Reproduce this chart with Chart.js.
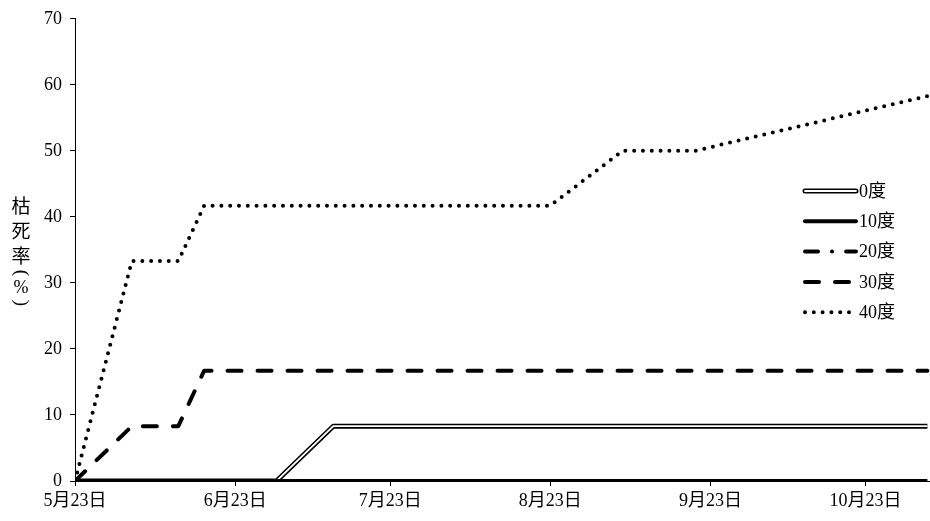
<!DOCTYPE html>
<html>
<head>
<meta charset="utf-8">
<script src="https://cdn.jsdelivr.net/npm/chart.js@4.4.0/dist/chart.umd.min.js"></script>
<style>
  html, body { margin: 0; padding: 0; background: #fff; }
  #wrap { width: 930px; height: 521px; }
</style>
</head>
<body>
<div id="wrap"><canvas id="chart" width="930" height="521"></canvas></div>
<script>
// x = days counted from 5月23日
var dayPoints = [0, 11, 20, 25, 39, 50, 92, 106, 120, 165];
var deg0  = [0, 0, 0, 0, 0, 8.3, 8.3, 8.3, 8.3, 8.3];
var deg10 = [0, 0, 0, 0, 0, 0, 0, 0, 0, 0];
var deg20 = [0, 0, 0, 0, 0, 0, 0, 0, 0, 0];
var deg30 = [0, 8.3, 8.3, 16.7, 16.7, 16.7, 16.7, 16.7, 16.7, 16.7];
var deg40 = [0, 33.3, 33.3, 41.7, 41.7, 41.7, 41.7, 50, 50, 58.3];

var tickDays = [0, 31, 61, 92, 123, 153];
var tickLabels = ['5月23日', '6月23日', '7月23日', '8月23日', '9月23日', '10月23日'];
var seriesNames = ['0度', '10度', '20度', '30度', '40度'];
var yTitle = ['枯', '死', '率', '(', '%', ')'];

var FONT = "'Liberation Serif', 'Noto Sans CJK SC', serif";

function toPoints(vals) {
  return vals.map(function(v, i) { return {x: dayPoints[i], y: v}; });
}

// line styles, used by the datasets and the legend samples
var styles = [
  {w: 5, dash: [], double: true},
  {w: 4, dash: []},
  {w: 4, dash: [13, 14, 0.1, 14]},
  {w: 4, dash: [14, 16]},
  {w: 4, dash: [0, 8.8]}
];

var extras = {
  id: 'extras',
  afterDraw: function(chart) {
    var ctx = chart.ctx;
    ctx.save();
    // y axis title, stacked vertically
    ctx.fillStyle = '#000';
    ctx.textAlign = 'center';
    ctx.textBaseline = 'middle';
    var ty = [208, 233, 258, 273, 288, 303];
    for (var i = 0; i < yTitle.length; i++) {
      var ch = yTitle[i];
      if (ch === '(' || ch === ')') {
        ctx.save();
        ctx.font = '19px ' + FONT;
        ctx.translate(21, ty[i]);
        ctx.rotate(Math.PI / 2);
        ctx.fillText(ch, 0, 0);
        ctx.restore();
      } else {
        ctx.font = (ch === '%' ? '18px ' : '19px ') + FONT;
        ctx.fillText(ch, 21, ty[i]);
      }
    }
    // legend
    var x0 = 805, x1 = 856;
    for (var k = 0; k < seriesNames.length; k++) {
      var y = 191 + k * 30.3;
      var st = styles[k];
      ctx.lineCap = 'round';
      ctx.strokeStyle = '#000';
      ctx.lineWidth = st.w;
      ctx.setLineDash(st.dash);
      ctx.beginPath();
      ctx.moveTo(x0, y);
      ctx.lineTo(x1, y);
      ctx.stroke();
      if (st.double) {
        ctx.strokeStyle = '#fff';
        ctx.lineWidth = 1.8;
        ctx.beginPath();
        ctx.moveTo(x0, y);
        ctx.lineTo(x1, y);
        ctx.stroke();
      }
      ctx.setLineDash([]);
      ctx.fillStyle = '#000';
      ctx.font = '18px ' + FONT;
      ctx.textAlign = 'left';
      ctx.fillText(seriesNames[k], 859, y + 1);
    }
    ctx.restore();
  }
};

var common = {pointRadius: 0, tension: 0, fill: false, borderJoinStyle: 'round', borderColor: '#000'};

var chart = new Chart(document.getElementById('chart').getContext('2d'), {
  type: 'line',
  data: {
    datasets: [
      Object.assign({label: seriesNames[4], data: toPoints(deg40), borderWidth: styles[4].w,
        borderDash: styles[4].dash, borderCapStyle: 'round', order: 0}, common),
      Object.assign({label: seriesNames[3], data: toPoints(deg30), borderWidth: styles[3].w,
        borderDash: styles[3].dash, borderCapStyle: 'round', order: 1}, common),
      Object.assign({label: seriesNames[2], data: toPoints(deg20), borderWidth: styles[2].w,
        borderDash: styles[2].dash, borderCapStyle: 'round', order: 2}, common),
      Object.assign({label: seriesNames[1], data: toPoints(deg10), borderWidth: styles[1].w,
        order: 3}, common),
      Object.assign({label: seriesNames[0], data: toPoints(deg0), borderWidth: styles[0].w,
        order: 5}, common),
      // white core of the double line
      Object.assign({}, common, {label: seriesNames[0] + ' inner', data: toPoints(deg0), borderColor: '#fff',
        borderWidth: 1.8, order: 4})
    ]
  },
  options: {
    responsive: false,
    animation: false,
    devicePixelRatio: 1,
    layout: {padding: {top: 18, right: 0, left: 0, bottom: 0}},
    plugins: {legend: {display: false}, tooltip: {enabled: false}},
    scales: {
      x: {
        type: 'linear',
        min: 0,
        max: 165.5,
        afterBuildTicks: function(axis) {
          axis.ticks = tickDays.map(function(d) { return {value: d}; });
        },
        afterFit: function(s) { s.height = 40; },
        ticks: {
          autoSkip: false,
          maxRotation: 0,
          padding: 4,
          color: '#000',
          font: {family: FONT, size: 18},
          callback: function(v) {
            var i = tickDays.indexOf(v);
            return i >= 0 ? tickLabels[i] : '';
          }
        },
        grid: {drawOnChartArea: false, drawTicks: true, tickLength: 5, color: '#000'},
        border: {display: true, color: '#000', width: 1}
      },
      y: {
        min: 0,
        max: 70,
        afterFit: function(s) { s.width = 75; },
        ticks: {
          stepSize: 10,
          padding: 8,
          color: '#000',
          font: {family: FONT, size: 18}
        },
        grid: {drawOnChartArea: false, drawTicks: true, tickLength: 5, color: '#000'},
        border: {display: true, color: '#000', width: 1}
      }
    }
  },
  plugins: [extras]
});
</script>
</body>
</html>
